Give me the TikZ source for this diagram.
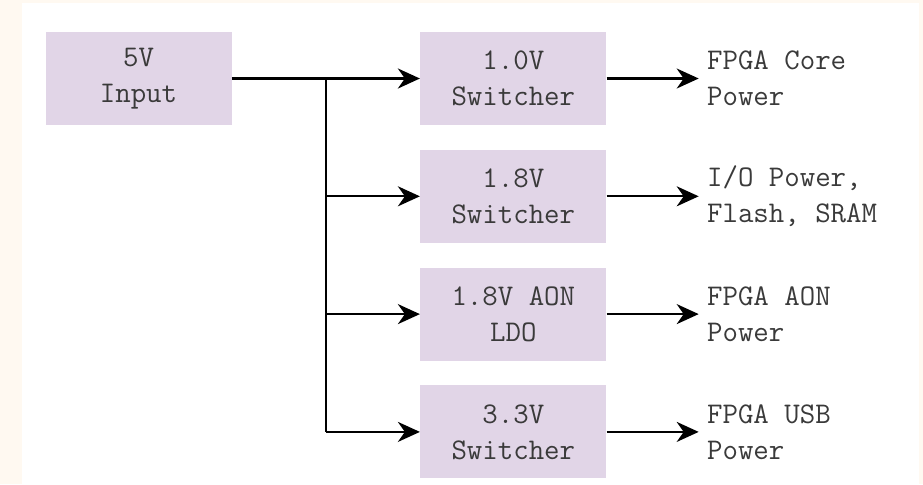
\documentclass[tikz,border=0pt]{standalone}
\usepackage{xcolor}
\usepackage{tikz}
\usetikzlibrary{arrows.meta,positioning,calc}

\definecolor{boxfill}{HTML}{E1D5E7}
\definecolor{pagecream}{HTML}{FFF9F1}
\definecolor{inkgray}{HTML}{3A3A3A}

\begin{document}
\begin{tikzpicture}[
    x=0.5pt, y=-0.5pt,
    node distance=12pt,
    block/.style={fill=boxfill, minimum width=93pt, minimum height=46.5pt,
                  inner sep=0pt, align=center, text=inkgray,
                  font=\ttfamily\fontsize{15}{18}\selectfont},
    railtext/.style={inner sep=4pt, align=left, anchor=west, text=inkgray,
                     font=\ttfamily\fontsize{15}{18}\selectfont},
    arrow/.style={-{Stealth[length=11pt, width=10pt, inset=3.5pt]}, line width=1.1pt},
    bus rail/.style={line width=1.1pt}
]
    % page background
    \useasboundingbox (0,0) rectangle (923,484);
    \fill[pagecream] (0,0) rectangle (923,484);
    \fill[white] (22,3) rectangle (919,484);

    % input and regulators
    \node[block] (input) at (138.5,78.5) {5V\\Input};
    \node[block, right=94pt of input] (sw10) {1.0V\\Switcher};
    \node[block, below=of sw10] (sw18) {1.8V\\Switcher};
    \node[block, below=of sw18] (ldo) {1.8V AON\\LDO};
    \node[block, below=of ldo] (sw33) {3.3V\\Switcher};

    % loads
    \node[railtext, right=46pt of sw10.east] (core) {FPGA Core\\Power};
    \node[railtext, right=46pt of sw18.east] (io) {I/O Power,\\Flash, SRAM};
    \node[railtext, right=46pt of ldo.east] (aon) {FPGA AON\\Power};
    \node[railtext, right=46pt of sw33.east] (usb) {FPGA USB\\Power};

    % distribution bus
    \coordinate (bus) at ([xshift=47pt]input.east);
    \draw[bus rail] (bus) -- (bus |- sw33.west);
    \draw[arrow, line width=1.4pt] (input.east) -- (sw10.west);
    \draw[arrow] (bus |- sw18.west) -- (sw18.west);
    \draw[arrow] (bus |- ldo.west) -- (ldo.west);
    \draw[arrow] (bus |- sw33.west) -- (sw33.west);

    % outputs
    \draw[arrow] (sw10.east) -- (core.west);
    \draw[arrow] (sw18.east) -- (io.west);
    \draw[arrow] (ldo.east) -- (aon.west);
    \draw[arrow] (sw33.east) -- (usb.west);
\end{tikzpicture}
\end{document}
